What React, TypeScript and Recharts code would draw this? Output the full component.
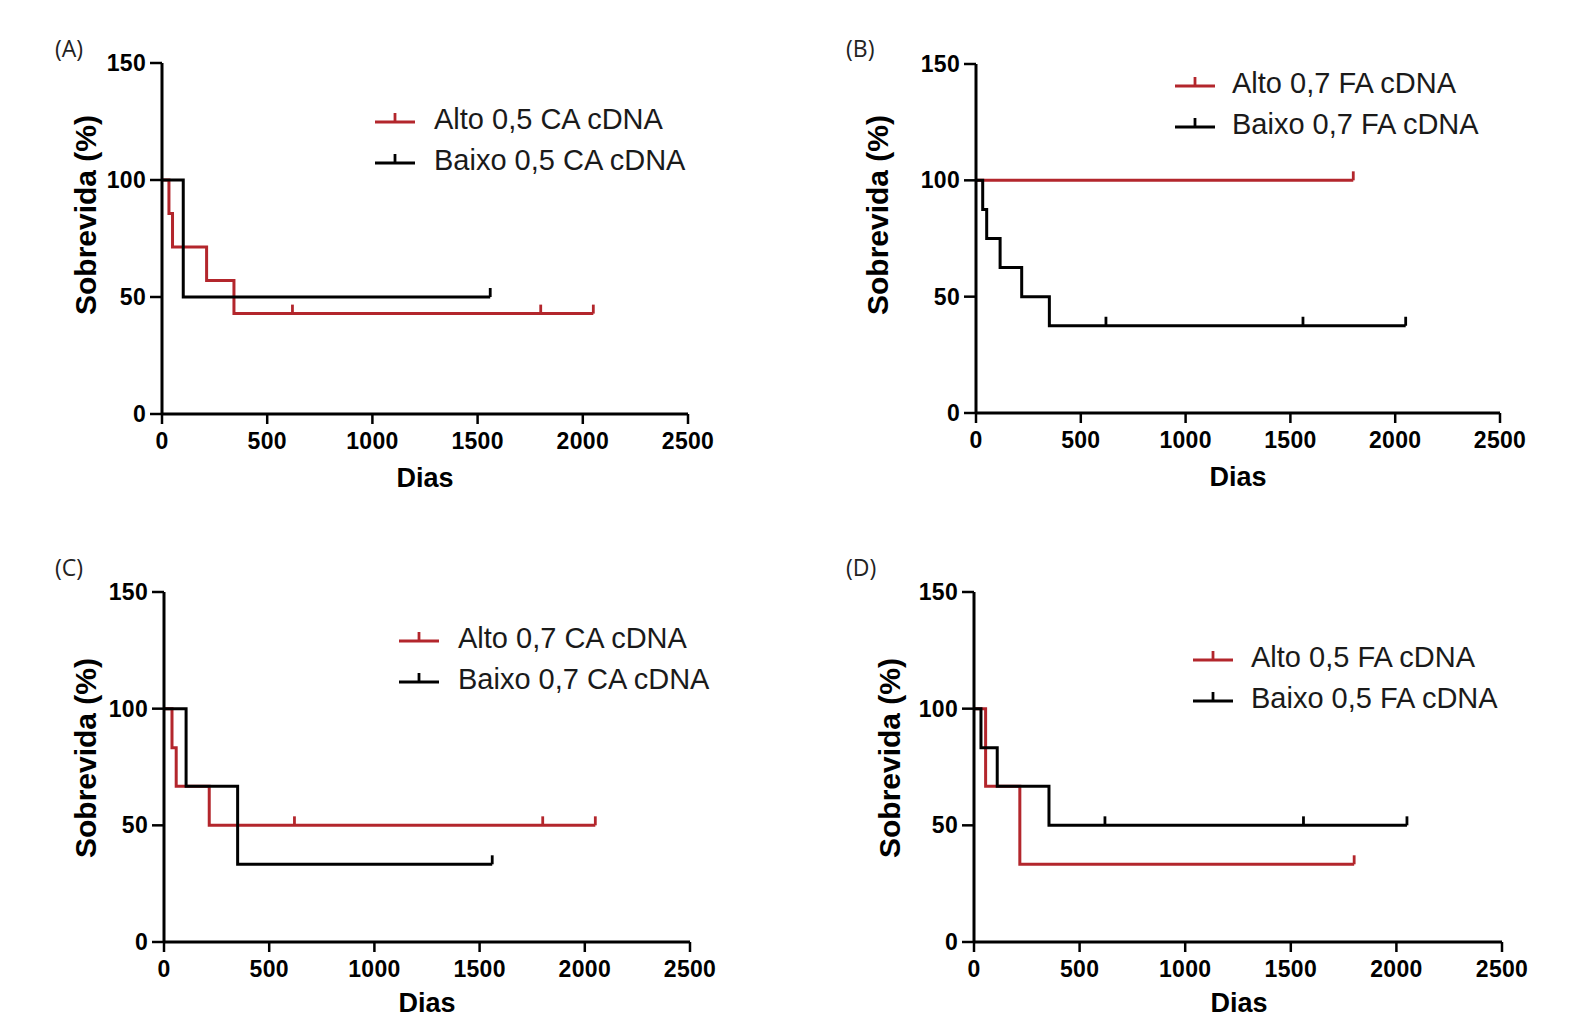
import React from 'react';
import { LineChart, Line, XAxis, YAxis, Legend, Label } from 'recharts';

// ---------- data ----------
const xTicks = [0, 500, 1000, 1500, 2000, 2500];
const yTicks = [0, 50, 100, 150];

// (A) 0,5 CA cDNA
const altoA = [
  { dias: 0, surv: 100, cens: 0 },
  { dias: 33, surv: 85.7, cens: 0 },
  { dias: 50, surv: 71.4, cens: 0 },
  { dias: 212, surv: 57.1, cens: 0 },
  { dias: 342, surv: 42.9, cens: 0 },
  { dias: 620, surv: 42.9, cens: 1 },
  { dias: 1800, surv: 42.9, cens: 1 },
  { dias: 2050, surv: 42.9, cens: 1 },
];
const baixoA = [
  { dias: 0, surv: 100, cens: 0 },
  { dias: 101, surv: 50, cens: 0 },
  { dias: 1560, surv: 50, cens: 1 },
];

// (B) 0,7 FA cDNA
const altoB = [
  { dias: 0, surv: 100, cens: 0 },
  { dias: 1800, surv: 100, cens: 1 },
];
const baixoB = [
  { dias: 0, surv: 100, cens: 0 },
  { dias: 32, surv: 87.5, cens: 0 },
  { dias: 51, surv: 75, cens: 0 },
  { dias: 115, surv: 62.5, cens: 0 },
  { dias: 218, surv: 50, cens: 0 },
  { dias: 350, surv: 37.5, cens: 0 },
  { dias: 620, surv: 37.5, cens: 1 },
  { dias: 1560, surv: 37.5, cens: 1 },
  { dias: 2050, surv: 37.5, cens: 1 },
];

// (C) 0,7 CA cDNA
const altoC = [
  { dias: 0, surv: 100, cens: 0 },
  { dias: 38, surv: 83.3, cens: 0 },
  { dias: 58, surv: 66.7, cens: 0 },
  { dias: 215, surv: 50, cens: 0 },
  { dias: 620, surv: 50, cens: 1 },
  { dias: 1800, surv: 50, cens: 1 },
  { dias: 2050, surv: 50, cens: 1 },
];
const baixoC = [
  { dias: 0, surv: 100, cens: 0 },
  { dias: 105, surv: 66.7, cens: 0 },
  { dias: 350, surv: 33.3, cens: 0 },
  { dias: 1560, surv: 33.3, cens: 1 },
];

// (D) 0,5 FA cDNA
const altoD = [
  { dias: 0, surv: 100, cens: 0 },
  { dias: 55, surv: 66.7, cens: 0 },
  { dias: 217, surv: 33.3, cens: 0 },
  { dias: 1800, surv: 33.3, cens: 1 },
];
const baixoD = [
  { dias: 0, surv: 100, cens: 0 },
  { dias: 33, surv: 83.3, cens: 0 },
  { dias: 110, surv: 66.7, cens: 0 },
  { dias: 355, surv: 50, cens: 0 },
  { dias: 620, surv: 50, cens: 1 },
  { dias: 1560, surv: 50, cens: 1 },
  { dias: 2050, surv: 50, cens: 1 },
];

const panelLabels = ['(A)', '(B)', '(C)', '(D)'];
const altoNames = ['Alto 0,5 CA cDNA', 'Alto 0,7 FA cDNA', 'Alto 0,7 CA cDNA', 'Alto 0,5 FA cDNA'];
const baixoNames = ['Baixo 0,5 CA cDNA', 'Baixo 0,7 FA cDNA', 'Baixo 0,7 CA cDNA', 'Baixo 0,5 FA cDNA'];
const yTitle = 'Sobrevida (%)';
const xTitle = 'Dias';

// ---------- layout ----------
const RED = '#b3262c';
const BLACK = '#000000';
const FONT = '"Liberation Sans", Arial, sans-serif';
const YW = 140;

const layouts = [
  { L: 162, T: 63, R: 688, B: 414, lab: [55, 48], yt: [85, 215], xt: [425, 478], lg: [375, 119, 160, 434] },
  { L: 976, T: 64, R: 1500, B: 413, lab: [846, 48], yt: [877, 215], xt: [1238, 477], lg: [1175, 83, 124, 1232] },
  { L: 164, T: 592, R: 690, B: 942, lab: [55, 567], yt: [85, 758], xt: [427, 1003], lg: [399, 638, 679, 458] },
  { L: 974, T: 592, R: 1502, B: 942, lab: [846, 567], yt: [889, 758], xt: [1239, 1003], lg: [1193, 657, 698, 1251] },
];

const makeDot = (color: string) => (props: any) => {
  const { cx, cy, payload, index } = props;
  if (!payload || !payload.cens || cx == null || cy == null) return <g key={`d${index}`} />;
  return <line key={`d${index}`} x1={cx} y1={cy} x2={cx} y2={cy - 9} stroke={color} strokeWidth={2.8} />;
};

const Marker = ({ color }: { color: string }) => (
  <svg width={40} height={20} style={{ display: 'block' }}>
    <line x1={0} y1={13} x2={40} y2={13} stroke={color} strokeWidth={3} />
    <line x1={20} y1={13} x2={20} y2={4} stroke={color} strokeWidth={2.8} />
  </svg>
);

function Panel({ idx, alto, baixo }: { idx: number; alto: any[]; baixo: any[] }) {
  const c = layouts[idx];
  const left = c.L - YW;
  const top = c.T - 20;
  const W = c.R - c.L + YW + 40;
  const H = c.B - c.T + 120;
  const tickStyle = { fill: '#000', fontSize: 23, fontWeight: 700, fontFamily: FONT, letterSpacing: 0.3 };
  const legendRow = (color: string, name: string, y: number) => (
    <div style={{ position: 'absolute', left: 0, top: y - c.lg[1], height: 30, display: 'flex', alignItems: 'center', whiteSpace: 'nowrap' }}>
      <Marker color={color} />
      <span style={{ marginLeft: c.lg[3] - c.lg[0] - 40, fontFamily: FONT, fontSize: 29, color: '#1a1a1a', lineHeight: '30px' }}>{name}</span>
    </div>
  );
  return (
    <>
      <div style={{ position: 'absolute', left: c.lab[0], top: c.lab[1] - 17, fontFamily: '"Open Sans", sans-serif', fontSize: 23, color: '#222', lineHeight: '34px' }}>
        {panelLabels[idx]}
      </div>
      <div style={{ position: 'absolute', left, top }}>
        <LineChart width={W} height={H} margin={{ top: 20, right: 40, left: 0, bottom: 0 }}>
          <XAxis
            type="number"
            dataKey="dias"
            domain={[0, 2500]}
            ticks={xTicks}
            height={100}
            tick={tickStyle}
            tickSize={10}
            tickMargin={9}
            axisLine={{ stroke: '#000', strokeWidth: 3 }}
            tickLine={{ stroke: '#000', strokeWidth: 2.5 }}
            allowDuplicatedCategory={false}
          >
            <Label
              content={() => (
                <text x={c.xt[0] - left} y={c.xt[1] - top} textAnchor="middle" dominantBaseline="central" fontFamily={FONT} fontWeight={700} fontSize={27} fill="#000">
                  {xTitle}
                </text>
              )}
            />
          </XAxis>
          <YAxis
            type="number"
            domain={[0, 150]}
            ticks={yTicks}
            width={YW}
            tick={tickStyle}
            tickSize={12}
            tickMargin={4}
            axisLine={{ stroke: '#000', strokeWidth: 3 }}
            tickLine={{ stroke: '#000', strokeWidth: 2.5 }}
          >
            <Label
              content={() => {
                const x = c.yt[0] - left;
                const y = c.yt[1] - top;
                return (
                  <text x={x} y={y} transform={`rotate(-90, ${x}, ${y})`} textAnchor="middle" dominantBaseline="central" fontFamily={FONT} fontWeight={700} fontSize={30} fill="#000">
                    {yTitle}
                  </text>
                );
              }}
            />
          </YAxis>
          <Line data={alto} dataKey="surv" type="stepAfter" stroke={RED} strokeWidth={3} dot={makeDot(RED)} activeDot={false} isAnimationActive={false} name={altoNames[idx]} />
          <Line data={baixo} dataKey="surv" type="stepAfter" stroke={BLACK} strokeWidth={3} dot={makeDot(BLACK)} activeDot={false} isAnimationActive={false} name={baixoNames[idx]} />
          <Legend
            layout="horizontal"
            verticalAlign="middle"
            align="center"
            wrapperStyle={{ position: 'absolute', left: c.lg[0] - left, top: c.lg[1] - top - 15, width: 380, height: 80 }}
            content={() => (
              <div style={{ position: 'relative', width: 380, height: 80 }}>
                {legendRow(RED, altoNames[idx], c.lg[1])}
                {legendRow(BLACK, baixoNames[idx], c.lg[2])}
              </div>
            )}
          />
        </LineChart>
      </div>
    </>
  );
}

export default function App() {
  return (
    <div style={{ position: 'absolute', left: 0, top: 0, width: 1572, height: 1018, background: '#fff', overflow: 'hidden' }}>
      <Panel idx={0} alto={altoA} baixo={baixoA} />
      <Panel idx={1} alto={altoB} baixo={baixoB} />
      <Panel idx={2} alto={altoC} baixo={baixoC} />
      <Panel idx={3} alto={altoD} baixo={baixoD} />
    </div>
  );
}
